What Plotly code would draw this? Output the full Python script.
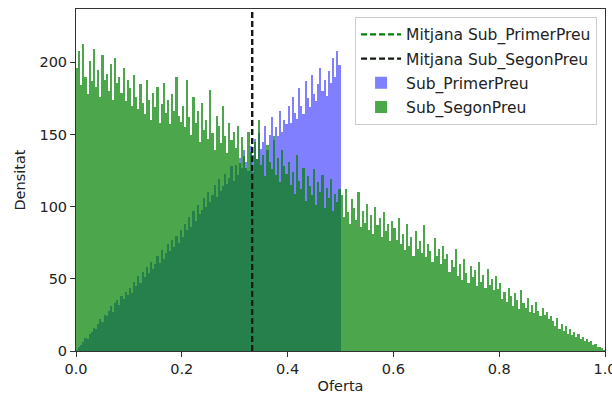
import plotly.graph_objects as go

# Histogram heights (bin width 0.004)
bin_width = 0.004

segon_counts = [
    196, 208, 184, 213, 190, 178, 201, 187, 209, 183, 195, 176, 205, 188, 192, 180, 199, 174, 203, 186, 190, 179, 196, 173, 188,
    182, 170, 191, 176, 168, 185, 172, 164, 188, 174, 160, 179, 169, 183, 158, 171, 186, 165, 174, 157, 178, 166, 190, 163, 159,
    170, 155, 188, 162, 150, 176, 158, 166, 145, 172, 153, 160, 147, 181, 151, 139, 163, 156, 144, 170, 149, 137, 158, 146, 152,
    141, 156, 130, 148, 135, 127, 152, 138, 124, 145, 133, 160, 129, 136, 121, 143, 131, 126, 149, 122, 134, 117, 139, 128, 123,
    131, 115, 124, 109, 136, 118, 112, 127, 104, 121, 114, 108, 126, 101, 117, 110, 122, 99, 113, 106, 119, 97, 109, 103, 112,
    108, 93, 112, 96, 88, 105, 99, 91, 110, 86, 97, 89, 102, 84, 94, 81, 100, 87, 92, 79, 96, 83, 88, 76, 90,
    85, 77, 92, 74, 81, 70, 88, 73, 79, 66, 83, 71, 76, 68, 87, 65, 74, 69, 62, 78, 66, 71, 60, 73, 64,
    67, 55, 63, 58, 71, 52, 60, 49, 64, 54, 47, 59, 51, 56, 45, 62, 48, 53, 44, 57, 46, 50, 42, 52, 43,
    47, 36, 41, 34, 44, 38, 31, 40, 35, 29, 42, 33, 30, 37, 27, 32, 26, 34, 28, 24, 30, 25, 27, 22, 24,
    21, 17, 23, 15, 19, 14, 17, 12, 15, 11, 13, 10, 12, 8, 10, 7, 8, 6, 7, 4, 5, 3, 3, 2, 1,
]

primer_counts = [
    1, 3, 4, 6, 9, 8, 12, 13, 16, 15, 19, 22, 20, 25, 24, 28, 31, 27, 33, 35, 32, 38, 36, 41, 39,
    44, 40, 48, 45, 52, 47, 55, 51, 58, 54, 62, 57, 60, 66, 61, 70, 64, 68, 74, 69, 77, 72, 80, 75, 84,
    79, 88, 84, 93, 86, 97, 90, 101, 95, 98, 106, 100, 110, 103, 108, 115, 107, 119, 111, 114, 123, 116, 120, 128, 118,
    129, 122, 134, 127, 139, 131, 125, 142, 136, 147, 133, 151, 140, 145, 156, 139, 150, 162, 146, 155, 149, 166, 152, 160, 157,
    170, 158, 176, 165, 161, 182, 170, 164, 187, 175, 169, 191, 178, 173, 185, 196, 180, 188, 177, 194, 186, 203, 190, 208, 198,
]

# Means (both dashed lines sit at the same place)
mean_names = ["Mitjana Sub_PrimerPreu", "Mitjana Sub_SegonPreu"]
mean_values = [0.333, 0.333]

x_ticks = [0.0, 0.2, 0.4, 0.6, 0.8, 1.0]
y_ticks = [0, 50, 100, 150, 200]
y_max = 237

seg_x = [(i + 0.5) * bin_width for i in range(len(segon_counts))]
pri_x = [(i + 0.5) * bin_width for i in range(len(primer_counts))]

font = "DejaVu Sans"
fig = go.Figure()

fig.add_trace(go.Bar(x=pri_x, y=primer_counts, width=bin_width, name="Sub_PrimerPreu",
                     marker=dict(color="rgba(0,0,255,0.5)", line=dict(width=0)),
                     legendrank=3, legendgroup="g3"))
fig.add_trace(go.Bar(x=seg_x, y=segon_counts, width=bin_width, name="Sub_SegonPreu",
                     marker=dict(color="rgba(0,128,0,0.7)", line=dict(width=0)),
                     legendrank=4, legendgroup="g4"))

mean_colors = ["green", "#111a11"]
for k, (nm, mv) in enumerate(zip(mean_names, mean_values)):
    fig.add_trace(go.Scatter(x=[mv, mv], y=[0, y_max], mode="lines", name=nm,
                             line=dict(color=mean_colors[k], dash="6px,3px", width=2.2),
                             legendrank=k + 1, legendgroup="g%d" % (k + 1)))

axis_common = dict(showline=True, mirror=True, linecolor="#333333", linewidth=1,
                   ticks="outside", ticklen=5, tickcolor="#333333", showgrid=False,
                   zeroline=False, ticklabeloverflow="allow", automargin=False,
                   tickfont=dict(family=font, size=14.5, color="#222222"))

fig.update_layout(
    width=612, height=399,
    margin=dict(l=76, r=7, t=9, b=48, autoexpand=False),
    paper_bgcolor="white", plot_bgcolor="white",
    barmode="overlay", bargap=0,
    font=dict(family=font, size=14.5, color="#222222"),
    xaxis=dict(range=[0, 1], tickvals=x_ticks, tickformat=".1f",
               title=dict(text="Oferta", font=dict(family=font, size=14.5), standoff=4),
               **axis_common),
    yaxis=dict(range=[0, y_max], tickvals=y_ticks,
               title=dict(text="Densitat", font=dict(family=font, size=14.5), standoff=10),
               **axis_common),
    legend=dict(x=0.985, y=0.977, xanchor="right", yanchor="top",
                bgcolor="rgba(255,255,255,0.85)", bordercolor="#cccccc", borderwidth=1,
                font=dict(family=font, size=15.5), traceorder="grouped",
                tracegroupgap=1, itemwidth=40),
    showlegend=True,
)

fig.write_html("out.html")
